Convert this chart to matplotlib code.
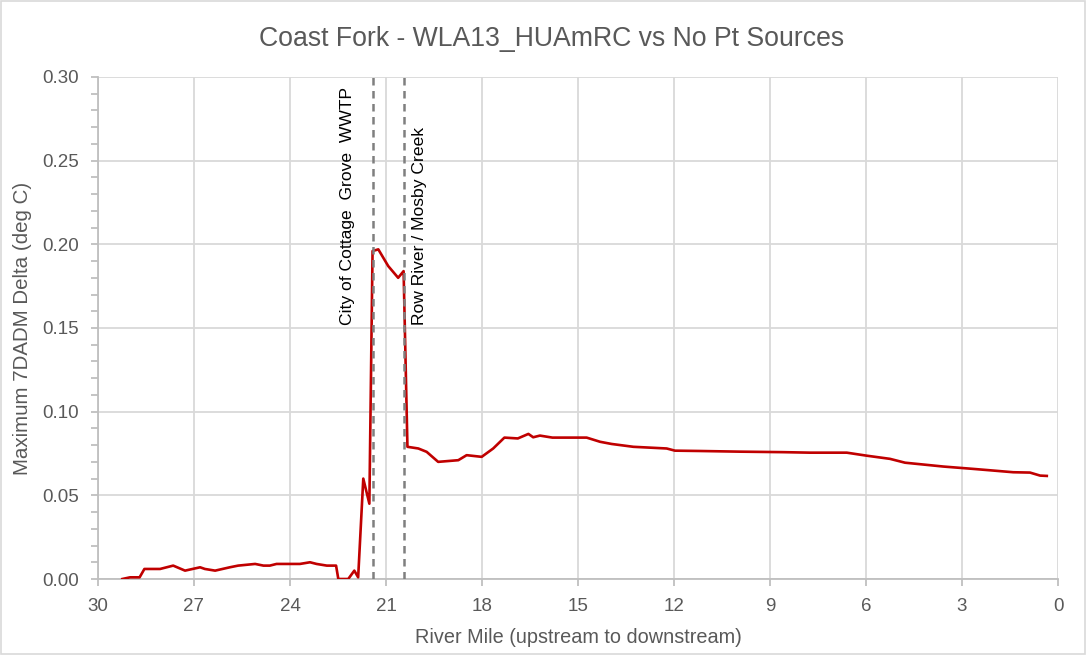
import matplotlib
matplotlib.use("Agg")
import matplotlib.pyplot as plt
from matplotlib.ticker import MultipleLocator, FormatStrFormatter
from matplotlib.patches import Rectangle

plt.rcParams['font.family'] = ['Liberation Sans', 'DejaVu Sans']

title = "Coast Fork - WLA13_HUAmRC vs No Pt Sources"
x_label = "River Mile (upstream to downstream)"
y_label = "Maximum 7DADM Delta (deg C)"

river_mile = [29.24, 29.0, 28.7, 28.55, 28.06, 27.65, 27.28, 26.81, 26.66, 26.34,
              25.88, 25.62, 25.09, 24.83, 24.63, 24.42, 24.21, 23.69, 23.375, 23.17,
              22.85, 22.56, 22.49, 22.18, 21.99, 21.87, 21.71, 21.52, 21.42, 21.24,
              20.93, 20.62, 20.45, 20.33, 19.99, 19.73, 19.37, 18.74, 18.48, 18.01,
              17.65, 17.30, 16.88, 16.55, 16.40, 16.19, 15.80, 14.73, 14.31, 13.95,
              13.27, 12.75, 12.23, 11.97, 11.19, 9.94, 8.58, 7.75, 6.60, 5.98,
              5.25, 4.78, 4.10, 3.58, 2.65, 2.02, 1.40, 0.875, 0.56, 0.35]
delta = [0.000, 0.001, 0.001, 0.006, 0.006, 0.008, 0.005, 0.007, 0.006, 0.005,
         0.007, 0.008, 0.009, 0.008, 0.008, 0.009, 0.009, 0.009, 0.010, 0.009,
         0.008, 0.008, 0.000, 0.000, 0.005, 0.001, 0.060, 0.045, 0.196, 0.197,
         0.187, 0.180, 0.184, 0.079, 0.078, 0.076, 0.070, 0.071, 0.074, 0.073,
         0.078, 0.0845, 0.084, 0.0867, 0.0847, 0.0857, 0.0845, 0.0845, 0.082, 0.0807,
         0.079, 0.0785, 0.078, 0.0767, 0.0765, 0.0761, 0.0758, 0.0755, 0.0755, 0.0737,
         0.0718, 0.0695, 0.0682, 0.0672, 0.0658, 0.0648, 0.0638, 0.0636, 0.0618, 0.0616]

source_miles = [21.40, 20.44]
source_labels = ["City of Cottage  Grove  WWTP", "Row River / Mosby Creek"]
label_miles = [22.19, 19.94]

gray_txt = "#595959"
grid_c = "#D9D9D9"

fig = plt.figure(figsize=(10.87, 6.55), dpi=100)
ax = fig.add_axes([98/1087, 1-579/655, (1058-98)/1087, (579-77)/655])

ax.plot(river_mile, delta, color="#C00000", linewidth=1.9, solid_joinstyle='round', zorder=3)

for m in source_miles:
    ax.axvline(m, color="#7F7F7F", linewidth=1.8, linestyle=(0, (3, 2.2)), zorder=4)
ax.text(label_miles[0], 0.152, source_labels[0], rotation=90, ha='center', va='bottom',
        fontsize=12.6, color='black')
ax.text(label_miles[1], 0.152, source_labels[1], rotation=90, ha='center', va='bottom',
        fontsize=12.6, color='black')

ax.set_xlim(30, 0)
ax.set_ylim(0, 0.30)
ax.xaxis.set_major_locator(MultipleLocator(3))
ax.yaxis.set_major_locator(MultipleLocator(0.05))
ax.yaxis.set_minor_locator(MultipleLocator(0.01))
ax.yaxis.set_major_formatter(FormatStrFormatter('%.2f'))
ax.grid(True, which='major', color=grid_c, linewidth=1.3, zorder=0)
ax.set_axisbelow(True)

for s in ['top', 'right']:
    ax.spines[s].set_visible(False)
for s in ['left', 'bottom']:
    ax.spines[s].set_color("#BFBFBF")
    ax.spines[s].set_linewidth(1.3)

ax.tick_params(axis='both', which='major', colors="#BFBFBF", labelcolor=gray_txt,
               labelsize=13.5, length=5, width=1.3)
ax.tick_params(axis='y', which='minor', colors="#BFBFBF", length=5, width=1.3)
ax.tick_params(axis='x', pad=9)
ax.tick_params(axis='y', pad=9)

ax.set_xlabel(x_label, fontsize=14.3, color=gray_txt, labelpad=9)
ax.set_ylabel(y_label, fontsize=14.8, color=gray_txt, labelpad=7)

fig.text(552/1087, 1-39/655, title, ha='center', va='center', fontsize=19.2, color=gray_txt)

fig.patches.append(Rectangle((0.001, 0.002), 0.997, 0.996, transform=fig.transFigure,
                             fill=False, edgecolor="#D9D9D9", linewidth=1.2))

fig.savefig("out.png", dpi=100)
